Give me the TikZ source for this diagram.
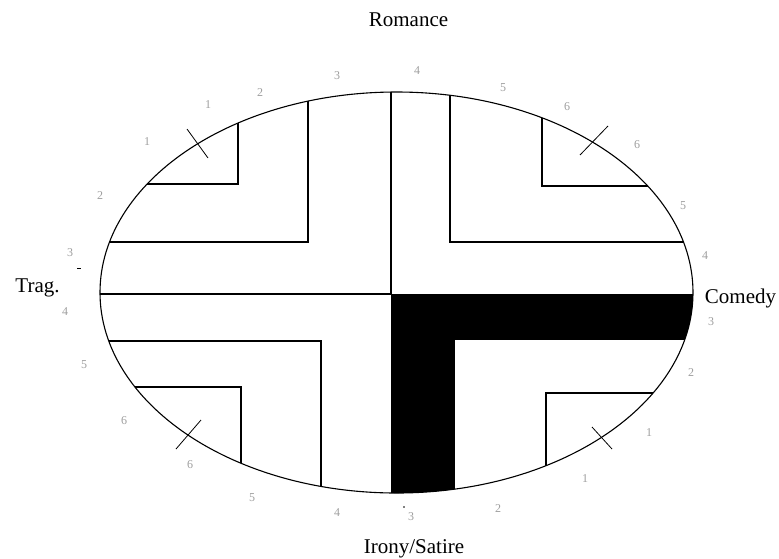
\documentclass[tikz,border=0pt]{standalone}
\usepackage{fontspec}
\setmainfont{Liberation Serif}
\definecolor{numgray}{rgb}{0.62,0.62,0.62}
\begin{document}
\begin{tikzpicture}[x=1pt,y=-1pt,
  ln/.style={line width=1.1pt,black},
  title/.style={font=\fontsize{21}{21}\selectfont,inner sep=0pt,anchor=base},
  num/.style={font=\fontsize{12}{12}\selectfont,text=numgray,inner sep=0pt}]
\useasboundingbox (0,0) rectangle (779,558);
% ellipse clip region
\begin{scope}
  \clip (396.5,292.5) ellipse [x radius=296.5pt, y radius=200.5pt];
  % black L
  \fill[black] (391,294) rectangle (800,340);
  \fill[black] (391,294) rectangle (455,600);
  % central cross
  \draw[ln] (0,294) -- (391,294);
  \draw[ln] (391,0) -- (391,294);
  % top-left
  \draw[ln] (0,242) -- (308,242) -- (308,0);
  \draw[ln] (0,184) -- (238,184) -- (238,0);
  % top-right
  \draw[ln] (450,0) -- (450,242) -- (800,242);
  \draw[ln] (542,0) -- (542,186) -- (800,186);
  % bottom-left
  \draw[ln] (0,341) -- (321,341) -- (321,600);
  \draw[ln] (0,387) -- (241,387) -- (241,600);
  % bottom-right
  \draw[ln] (546,600) -- (546,393) -- (800,393);
\end{scope}
\draw[ln] (396.5,292.5) ellipse [x radius=296.5pt, y radius=200.5pt];
% tick marks
\draw[line width=0.8pt] (187,129) -- (208,158);
\draw[line width=0.8pt] (580,155) -- (608,126);
\draw[line width=0.8pt] (176,449) -- (201,420);
\draw[line width=0.8pt] (592,427) -- (612,449);
% small marks
\draw[line width=0.9pt] (77,268) -- (81,268);
\fill (404,507) circle (0.9pt);
% titles
\node[title] (romance) at (408.5,26.5) {Romance};
\node[title] (irony) at (414,553) {Irony/Satire};
\node[title] (trag) at (37.5,292) {Trag.};
\node[title] (comedy) at (740.5,303) {Comedy};
% numbers
\node[num] (n1) at (208,105) {1};
\node[num] (n2) at (147,142) {1};
\node[num] (n3) at (260,93) {2};
\node[num] (n4) at (100,196) {2};
\node[num] (n5) at (337,76) {3};
\node[num] (n6) at (70,253) {3};
\node[num] (n7) at (65,312) {4};
\node[num] (n8) at (417,71) {4};
\node[num] (n9) at (503,88) {5};
\node[num] (n10) at (567,107) {6};
\node[num] (n11) at (637,145) {6};
\node[num] (n12) at (683,206) {5};
\node[num] (n13) at (705,256) {4};
\node[num] (n14) at (711,322) {3};
\node[num] (n15) at (691,373) {2};
\node[num] (n16) at (649,433) {1};
\node[num] (n17) at (585,479) {1};
\node[num] (n18) at (498,509) {2};
\node[num] (n19) at (411,517) {3};
\node[num] (n20) at (84,365) {5};
\node[num] (n21) at (124,421) {6};
\node[num] (n22) at (190,465) {6};
\node[num] (n23) at (252,498) {5};
\node[num] (n24) at (337,513) {4};
\end{tikzpicture}
\end{document}
